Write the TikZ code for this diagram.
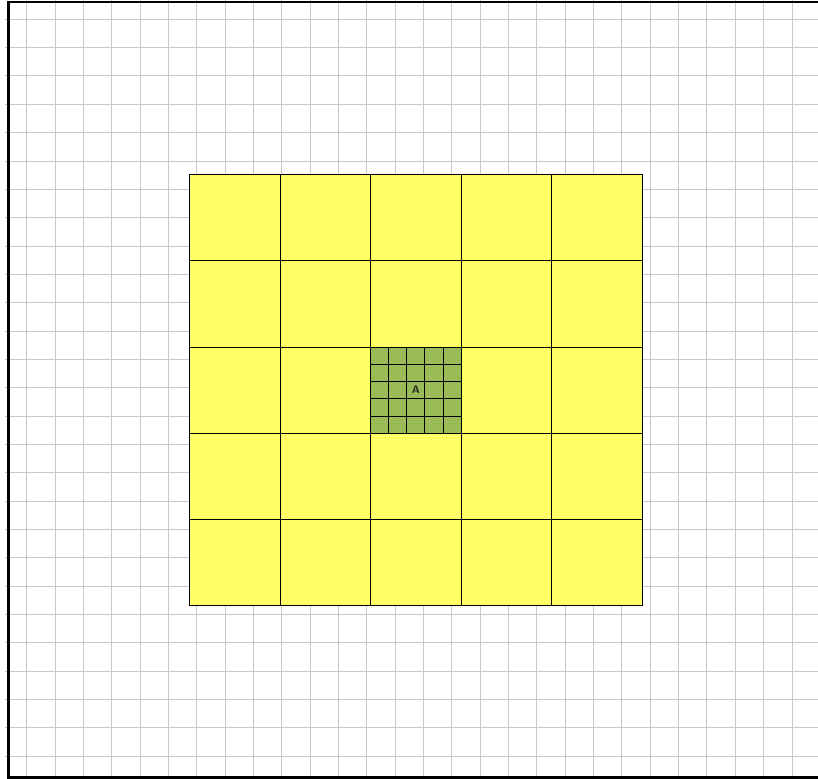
\documentclass[tikz,border=0pt]{standalone}
\usepackage{tikz}
\usetikzlibrary{positioning}
\definecolor{cellyellow}{RGB}{255, 255, 102}
\definecolor{cellgreen}{RGB}{155, 187, 89}
\definecolor{gridgray}{RGB}{200, 200, 200}
\tikzset{
    paper/.style={draw=gridgray, line width=1bp},
    frame/.style={draw=black, line width=2.8bp},
    bigcell/.style={fill=cellyellow, draw=black, line width=0.9bp},
    subcell/.style={fill=cellgreen, draw=black, line width=0.9bp},
    label/.style={font=\sffamily\bfseries\fontsize{11}{11}\selectfont, text=black!85}
}

\begin{document}
\begin{tikzpicture}[x=18.1bp, y=-17.25bp]
    \useasboundingbox (-1.475,-1.119) rectangle (43.72,44.04);
    \clip (-1.475,-1.119) rectangle (43.72,44.04);
    % background paper
    \draw [paper] (-1.2,-1.2) grid (45,45);
    \draw [frame] (-1,-1) rectangle (44,43.95);
    % 5x5 block of big cells
    \foreach \i in {0,...,4} {
        \foreach \j in {0,...,4} {
            \draw [bigcell] ({9+5*\i},{9+5*\j}) rectangle ++(5,5);
        }
    }
    % middle cell, split finer
    \foreach \i in {0,...,4} {
        \foreach \j in {0,...,4} {
            \draw [subcell] ({19+\i},{19+\j}) rectangle ++(1,1);
        }
    }
    \node (a) [label] at (21.5,21.5) {A};
\end{tikzpicture}
\end{document}
